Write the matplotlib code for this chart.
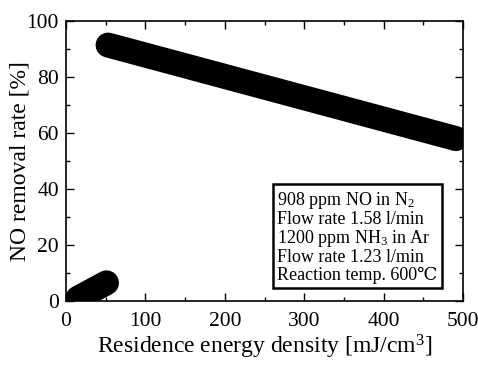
import matplotlib
matplotlib.use('Agg')
import matplotlib.pyplot as plt
from matplotlib.ticker import MultipleLocator

# data (line end points)
low_x = [15, 51]
low_y = [1.0, 6.5]
high_x = [53, 491]
high_y = [91.4, 58.0]

conditions = ['908 ppm NO in N$_2$',
              'Flow rate 1.58 l/min',
              '1200 ppm NH$_3$ in Ar',
              'Flow rate 1.23 l/min',
              'Reaction temp. 600\u2103']

plt.rcParams['font.family'] = ['Liberation Serif', 'DejaVu Serif']
plt.rcParams['mathtext.default'] = 'regular'

fig = plt.figure(figsize=(4.78, 3.68), dpi=100)
ax = fig.add_axes([0.138, 0.182, 0.831, 0.761])

ax.plot(low_x, low_y, color='black', lw=18, solid_capstyle='round', zorder=3)
ax.plot(high_x, high_y, color='black', lw=18, solid_capstyle='round', zorder=3)

ax.set_xlim(0, 500)
ax.set_ylim(0, 100)
ax.xaxis.set_major_locator(MultipleLocator(100))
ax.xaxis.set_minor_locator(MultipleLocator(50))
ax.yaxis.set_major_locator(MultipleLocator(20))
ax.yaxis.set_minor_locator(MultipleLocator(10))
ax.tick_params(which='both', direction='in', top=True, right=True,
               labelsize=15.5, width=1)
ax.tick_params(which='major', length=6, pad=5)
ax.tick_params(axis='x', which='major', pad=8)
ax.tick_params(which='minor', length=3)
for s in ax.spines.values():
    s.set_linewidth(1.2)

ax.set_xlabel('Residence energy density [mJ/cm$^3$]', fontsize=17, labelpad=1)
ax.set_ylabel('NO removal rate [%]', fontsize=17, labelpad=-3)

ax.text(266, 39.5, '\n'.join(conditions), fontsize=13, linespacing=1.0,
        va='top', ha='left', zorder=4,
        bbox=dict(boxstyle='square,pad=0.25', fc='white', ec='black', lw=1.8))

fig.savefig('out.png', dpi=100)
